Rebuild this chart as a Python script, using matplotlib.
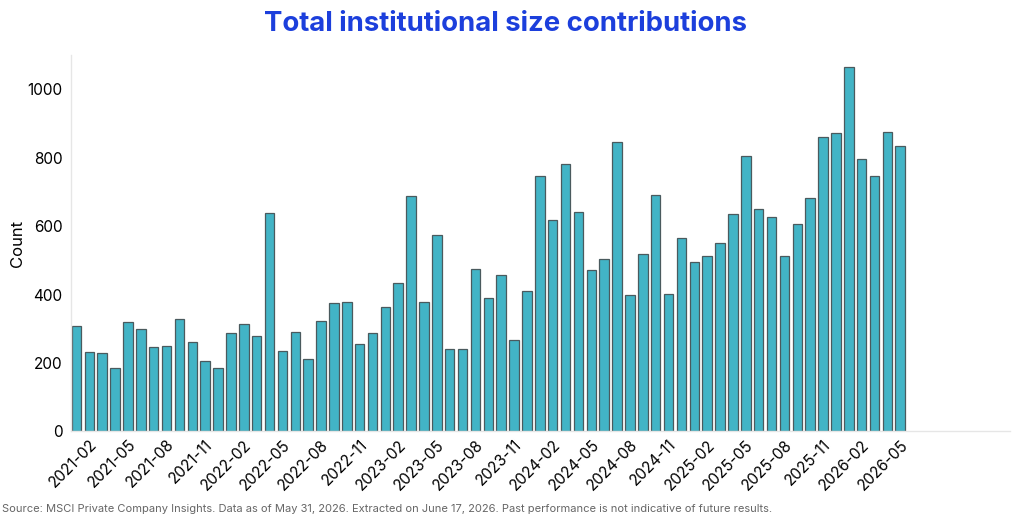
import numpy as np
import pandas as pd
import matplotlib
matplotlib.use("Agg")
import matplotlib.pyplot as plt

plt.rcParams['font.family'] = ['Inter', 'DejaVu Sans']

months = pd.period_range("2021-01", "2026-05", freq="M").strftime("%Y-%m").tolist()
counts = [309, 233, 229, 186, 321, 299, 246, 249, 329, 260, 206, 185,
          287, 315, 280, 637, 235, 291, 211, 324, 374, 379, 256, 287,
          365, 434, 689, 378, 575, 242, 241, 475, 391, 457, 267, 410,
          747, 617, 781, 640, 472, 505, 846, 398, 517, 692, 402, 564,
          495, 513, 551, 636, 804, 650, 626, 513, 605, 681, 860, 872,
          1066, 797, 745, 874, 833]

title = "Total institutional size contributions"
source = ("Source: MSCI Private Company Insights. Data as of May 31, 2026. "
          "Extracted on June 17, 2026. Past performance is not indicative of future results.")

fig = plt.figure(figsize=(10.24, 5.23), dpi=100)
ax = fig.add_axes([0.069, 0.175, 0.917, 0.72])

x = np.arange(len(counts))
ax.bar(x, counts, width=0.74, color="#42b4c6", edgecolor="#4a5a5e", linewidth=0.9)

tick_idx = x[1::3]
ax.set_xticks(tick_idx)
ax.set_xticklabels([months[i] for i in tick_idx], rotation=45, ha="right",
                   rotation_mode="anchor", fontsize=11)
ax.set_xlim(-0.45, 72.5)
ax.set_ylim(0, 1100)
ax.set_yticks([0, 200, 400, 600, 800, 1000])
ax.tick_params(axis="y", labelsize=11, length=0, pad=6)
ax.tick_params(axis="x", length=0, pad=4)
ax.set_ylabel("Count", fontsize=12)
ax.yaxis.set_label_coords(-0.049, 0.5)

for s in ["top", "right"]:
    ax.spines[s].set_visible(False)
for s in ["left", "bottom"]:
    ax.spines[s].set_color("#e6e6e6")
    ax.spines[s].set_linewidth(1)

fig.text(0.494, 0.955, title, ha="center", va="center", fontsize=19.8,
         fontweight="bold", color="#1c3fdc")
fig.text(0.002, 0.027, source, ha="left", va="center", fontsize=8.0, color="#666666")

fig.savefig("out.png", dpi=100)
